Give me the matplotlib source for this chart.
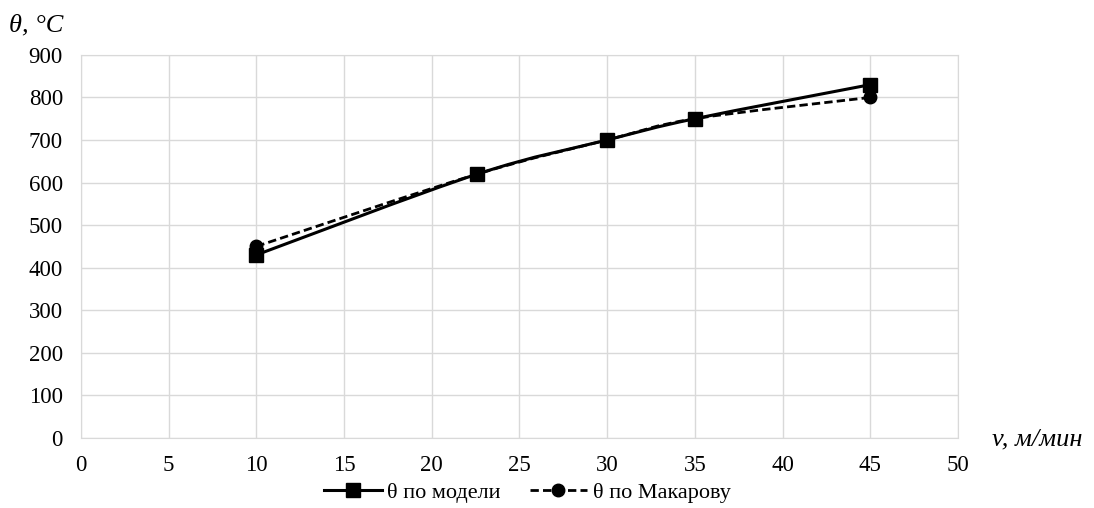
"""Temperature vs cutting speed: model vs Makarov."""
import numpy as np
import matplotlib.pyplot as plt
from matplotlib.path import Path
from matplotlib.patches import PathPatch
from matplotlib.lines import Line2D

plt.rcParams["font.family"] = ["Liberation Serif", "DejaVu Serif"]

speed = [10, 22.6, 30, 35, 45]
theta_model = [430, 620, 700, 750, 830]
theta_makarov = [450, 620, 700, 750, 800]


def smooth_path(xs, ys):
    # Excel-style smoothed line: cubic Bezier with Catmull-Rom control points
    p = np.column_stack([xs, ys]).astype(float)
    n = len(p)
    verts = [p[0]]
    codes = [Path.MOVETO]
    for i in range(n - 1):
        p0 = p[i - 1] if i > 0 else p[i]
        p3 = p[i + 2] if i + 2 < n else p[i + 1]
        c1 = p[i] + (p[i + 1] - p0) / 6
        c2 = p[i + 1] - (p3 - p[i]) / 6
        verts += [c1, c2, p[i + 1]]
        codes += [Path.CURVE4] * 3
    return Path(verts, codes)


fig = plt.figure(figsize=(10.94, 5.08), dpi=100)
ax = fig.add_axes([0.074, 0.138, 0.8017, 0.754])

ax.add_patch(PathPatch(smooth_path(speed, theta_model), fill=False,
                       lw=2.2, color="black", zorder=3))
ax.add_patch(PathPatch(smooth_path(speed, theta_makarov), fill=False,
                       lw=2.0, color="black", linestyle=(0, (3, 1.5)), zorder=3))
ax.plot(speed, theta_model, ls="none", marker="s", ms=10, color="black", zorder=4)
ax.plot(speed, theta_makarov, ls="none", marker="o", ms=9, color="black", zorder=4)

ax.set_xlim(0, 50)
ax.set_ylim(0, 900)
ax.set_xticks(range(0, 51, 5))
ax.set_yticks(range(0, 901, 100))
ax.tick_params(length=0, labelsize=16.5)
ax.tick_params(axis="y", pad=13)
ax.tick_params(axis="x", pad=12)
ax.grid(True, color="#d9d9d9", lw=1)
ax.set_axisbelow(True)
for s in ax.spines.values():
    s.set_color("#d9d9d9")

fig.text(0.008, 0.95, "θ, °C", fontsize=19, style="italic", ha="left", va="center")
fig.text(0.907, 0.134, "v, м/мин", fontsize=19, style="italic", ha="left", va="center")

handles = [
    Line2D([], [], color="black", lw=2.2, marker="s", ms=10),
    Line2D([], [], color="black", lw=2.0, ls=(0, (3, 1.5)), marker="o", ms=9),
]
fig.legend(handles, ["θ по модели", "θ по Макарову"], loc="center",
           bbox_to_anchor=(0.482, 0.031), ncol=2, frameon=False,
           fontsize=16, handlelength=2.6, handletextpad=0.25, columnspacing=1.3)

plt.savefig("out.png", dpi=100)
